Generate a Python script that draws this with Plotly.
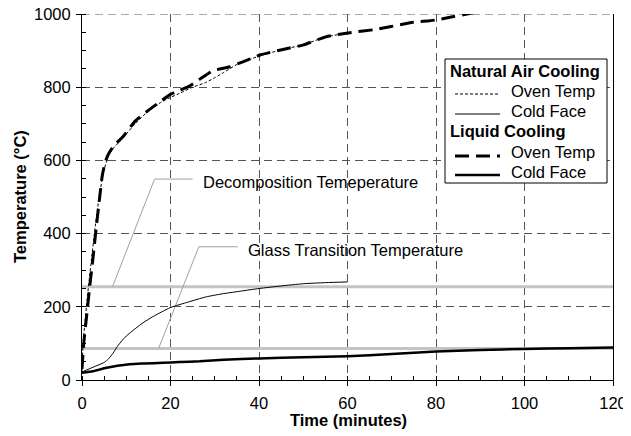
import plotly.graph_objects as go

# ---------------- data ----------------
# Natural air cooling
nat_oven_t = [0, 0.2, 0.6, 1.2, 2.0, 3.0, 4.0, 5.0, 6.0, 7.0, 9.0, 12, 15, 18, 20, 22, 25, 28, 30, 32, 35, 40, 45, 50, 55, 60]
nat_oven_T = [25, 90, 150, 225, 315, 420, 510, 575, 612, 632, 658, 700, 735, 760, 772, 783, 800, 813, 826, 840, 862, 885, 902, 916, 937, 948]
nat_cold_t = [0, 2.5, 5, 6, 7, 8, 9, 10, 12, 14, 16, 18, 20, 24, 28, 32, 36, 40, 45, 50, 55, 60]
nat_cold_T = [22, 35, 48, 58, 73, 92, 107, 120, 140, 158, 173, 186, 198, 213, 227, 236, 243, 250, 257, 263, 266, 268]

# Liquid cooling
liq_oven_t = [0, 0.4, 1.0, 1.7, 2.5, 3.3, 4.0, 4.6, 5.1, 5.6, 6.2, 7.0, 8.0, 9.3, 11.9, 14.6, 17.6, 19.8, 22.1, 24.3, 27.0, 29.6, 33.4, 36.5, 40.2, 45.4, 49.9, 55.2, 60.5, 66.5, 73.3, 75.6, 78.2, 80.1, 84, 87, 92]
liq_oven_T = [30, 101, 170, 250, 335, 425, 500, 560, 588, 607, 622, 637, 650, 665, 706, 733, 760, 779, 792, 803, 825, 845, 856, 870, 888, 903, 915, 938, 949, 958, 974, 979, 981, 984, 993, 1000, 1012]
liq_cold_t = [0, 2.5, 5, 8, 10.8, 14, 18.3, 22, 26.6, 32, 40, 50, 60, 70, 80, 90, 100, 110, 120]
liq_cold_T = [20, 24, 32, 39, 43, 45, 47, 49, 51, 55, 59, 62, 65, 71, 78, 82, 85, 87, 89]

# Reference temperatures
decomp_T = 255
glass_T = 86
time_range = [0, 120]
temp_range = [0, 1000]

# Annotation leaders and labels
decomp_label = "Decomposition Temeperature"
glass_label = "Glass Transition Temperature"
decomp_leader_t = [6.9, 16.4, 25.0]
decomp_leader_T = [255, 549, 549]
glass_leader_t = [17.3, 26.4, 35.2]
glass_leader_T = [86, 364, 364]
decomp_text_pos = (26.8, 540)
glass_text_pos = (37.0, 354)

x_ticks = [0, 20, 40, 60, 80, 100, 120]
y_ticks = [0, 200, 400, 600, 800, 1000]
x_title = "Time (minutes)"
y_title = "Temperature (°C)"

# legend content
legend_groups = ["Natural Air Cooling", "Liquid Cooling"]
legend_items = ["Oven Temp", "Cold Face"]

FONT = "Liberation Sans, Arial, sans-serif"
FS = 16.5

# page has an 8px body margin: figure is drawn at (8, 8) in the window
OFF = 8
W, H = 631 - OFF, 436 - OFF
# plot-area geometry in window pixels
L, R, T, B = 82, 613, 14, 380
def px(xp):
    return (xp - L) / (R - L)
def py(yp):
    return (B - yp) / (B - T)

styles = {
    "nat_oven": dict(color="black", width=1, dash="3px,2px"),
    "nat_cold": dict(color="black", width=1),
    "liq_oven": dict(color="black", width=3, dash="14px,7px"),
    "liq_cold": dict(color="black", width=2.5),
}

fig = go.Figure()

# top grid line at 1000 (dashed, like the other grid lines)
fig.add_trace(go.Scatter(x=time_range, y=[temp_range[1]] * 2, mode="lines",
                         line=dict(color="#555555", width=1, dash="8px,5px"), hoverinfo="skip"))

# threshold lines (gray)
for Tv in (decomp_T, glass_T):
    fig.add_trace(go.Scatter(x=time_range, y=[Tv, Tv], mode="lines",
                             line=dict(color="#c4c4c4", width=3), hoverinfo="skip"))

# leader lines
fig.add_trace(go.Scatter(x=decomp_leader_t, y=decomp_leader_T, mode="lines",
                         line=dict(color="#a0a0a0", width=1), hoverinfo="skip"))
fig.add_trace(go.Scatter(x=glass_leader_t, y=glass_leader_T, mode="lines",
                         line=dict(color="#a0a0a0", width=1), hoverinfo="skip"))

fig.add_trace(go.Scatter(x=nat_oven_t, y=nat_oven_T, mode="lines", name="Natural Air Cooling - Oven Temp",
                         line=dict(**styles["nat_oven"], shape="spline", smoothing=0.5)))
fig.add_trace(go.Scatter(x=nat_cold_t, y=nat_cold_T, mode="lines", name="Natural Air Cooling - Cold Face",
                         line=dict(**styles["nat_cold"], shape="spline", smoothing=0.6)))
fig.add_trace(go.Scatter(x=liq_oven_t, y=liq_oven_T, mode="lines", name="Liquid Cooling - Oven Temp",
                         line=dict(**styles["liq_oven"], shape="spline", smoothing=0.5)))
fig.add_trace(go.Scatter(x=liq_cold_t, y=liq_cold_T, mode="lines", name="Liquid Cooling - Cold Face",
                         line=dict(**styles["liq_cold"], shape="spline", smoothing=0.6)))

fig.add_annotation(x=decomp_text_pos[0], y=decomp_text_pos[1], text=decomp_label,
                   showarrow=False, xanchor="left", yanchor="middle",
                   font=dict(family=FONT, size=FS, color="black"))
fig.add_annotation(x=glass_text_pos[0], y=glass_text_pos[1], text=glass_label,
                   showarrow=False, xanchor="left", yanchor="middle",
                   font=dict(family=FONT, size=FS, color="black"))

# axis titles
fig.add_annotation(xref="paper", yref="paper", x=px(348.5), y=py(420), text="<b>%s</b>" % x_title,
                   showarrow=False, xanchor="center", yanchor="middle",
                   font=dict(family=FONT, size=FS, color="black"))
fig.add_annotation(xref="paper", yref="paper", x=px(20), y=py(197), text="<b>%s</b>" % y_title,
                   showarrow=False, xanchor="center", yanchor="middle", textangle=-90,
                   font=dict(family=FONT, size=FS, color="black"))

# ---------- manual legend (box, group titles, samples, labels) ----------
fig.add_shape(type="rect", xref="paper", yref="paper",
              x0=px(445), x1=px(607), y0=py(183), y1=py(59),
              line=dict(color="black", width=1), fillcolor="white", layer="above")
title_rows = [71, 131]
item_rows = [[91, 111], [152, 172]]
line_rows = [[94, 114], [156, 175]]
keys = [["nat_oven", "nat_cold"], ["liq_oven", "liq_cold"]]
for g, gname in enumerate(legend_groups):
    fig.add_annotation(xref="paper", yref="paper", x=px(448), y=py(title_rows[g]),
                       text="<b>%s</b>" % gname, showarrow=False, xanchor="left", yanchor="middle",
                       font=dict(family=FONT, size=FS, color="black"))
    for i, item in enumerate(legend_items):
        fig.add_annotation(xref="paper", yref="paper", x=px(509), y=py(item_rows[g][i]),
                           text=item, showarrow=False, xanchor="left", yanchor="middle",
                           font=dict(family=FONT, size=FS, color="black"))
        fig.add_shape(type="line", xref="paper", yref="paper",
                      x0=px(455), x1=px(500), y0=py(line_rows[g][i]), y1=py(line_rows[g][i]),
                      line=styles[keys[g][i]], layer="above")

grid = dict(showgrid=True, gridcolor="#555555", gridwidth=1, griddash="8px,5px")

fig.update_xaxes(range=time_range, tickvals=x_ticks, ticks="outside", ticklen=5, tickcolor="black",
                 showline=True, linecolor="black", linewidth=1, zeroline=False, automargin=False,
                 minor=dict(dtick=5, ticks="inside", ticklen=4, tickcolor="black", showgrid=False),
                 ticklabelstandoff=3, ticklabeloverflow="allow",
                 tickfont=dict(family=FONT, size=FS, color="black"), **grid)
fig.update_yaxes(range=temp_range, tickvals=y_ticks, ticks="outside", ticklen=5, tickcolor="black",
                 showline=True, linecolor="black", linewidth=1, mirror=True, zeroline=False, automargin=False,
                 minor=dict(dtick=50, ticks="inside", ticklen=4, tickcolor="black", showgrid=False),
                 ticklabelstandoff=2, ticklabeloverflow="allow",
                 tickfont=dict(family=FONT, size=FS, color="black"), **grid)

fig.update_layout(
    width=W, height=H,
    margin=dict(l=L - OFF, r=W - (R - OFF), t=T - OFF, b=H - (B - OFF), autoexpand=False),
    paper_bgcolor="white", plot_bgcolor="white",
    font=dict(family=FONT, size=FS, color="black"),
    showlegend=False,
)

fig.write_html("out.html")
